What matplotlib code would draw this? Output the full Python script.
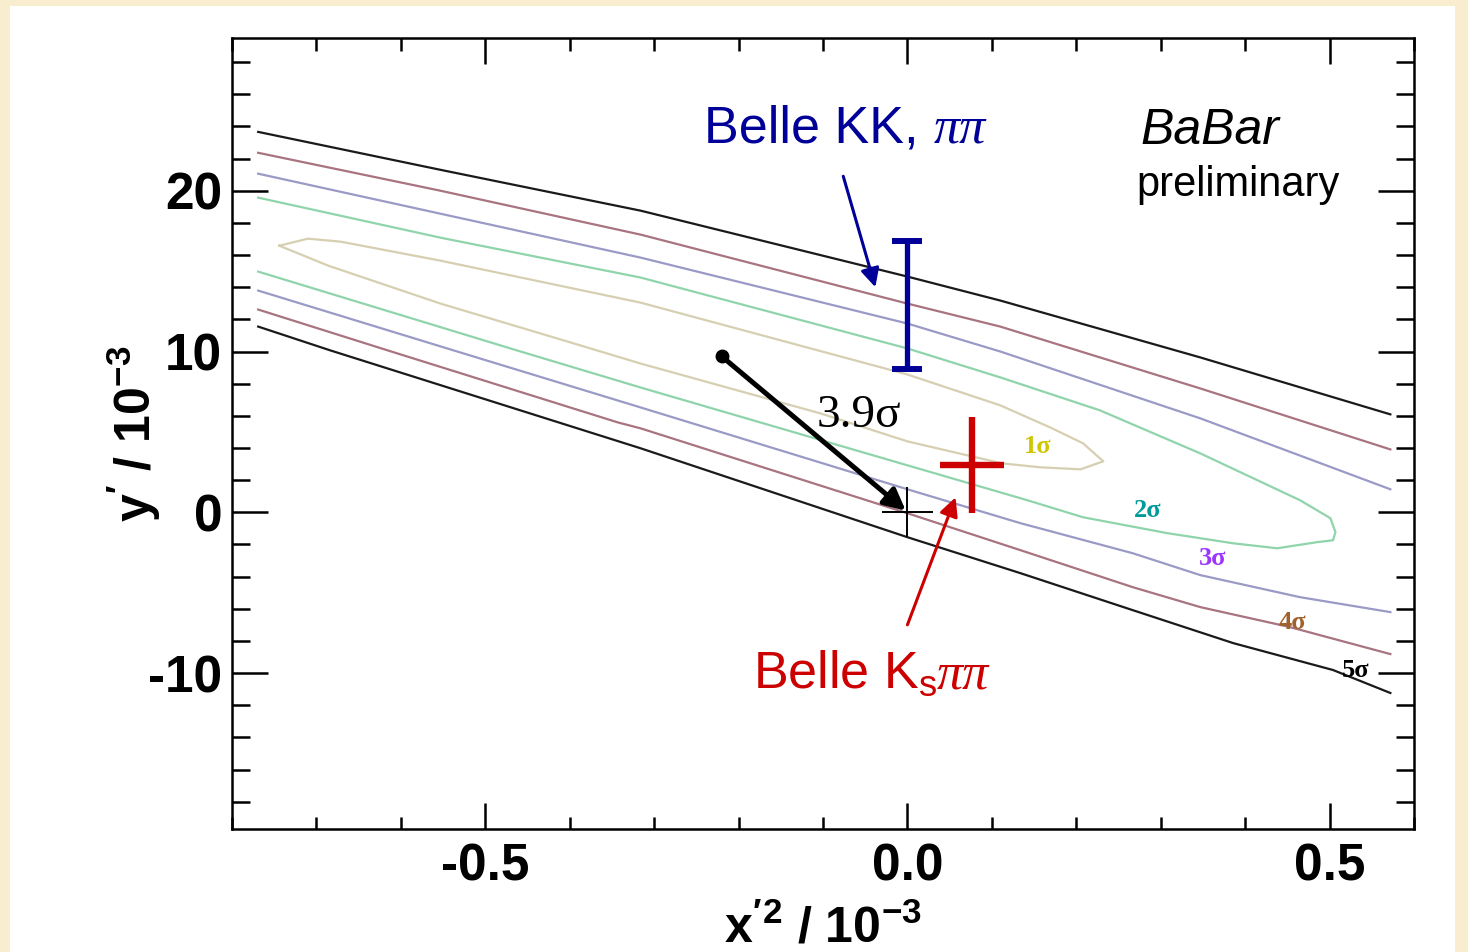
import numpy as np
import matplotlib.pyplot as plt
from matplotlib.patches import Rectangle
from matplotlib.ticker import MultipleLocator, FormatStrFormatter

# ---------------------------------------------------------
# D0 mixing: x'^2 vs y' likelihood contours (BaBar prelim.)
# ---------------------------------------------------------

# contour lines (x'^2 / 1e-3, y' / 1e-3)
sig1_x = [-0.744, -0.710, -0.671, -0.553, -0.316, 0.0, 0.110, 0.169, 0.208, 0.232,
          0.205, 0.157, 0.112, 0.0, -0.103, -0.316, -0.395, -0.553, -0.686, -0.744]
sig1_y = [16.58, 17.02, 16.83, 15.65, 13.04, 8.57, 6.65, 5.28, 4.29, 3.17,
          2.67, 2.80, 3.04, 4.41, 6.15, 9.25, 10.50, 12.98, 15.34, 16.58]

sig2_x = [-0.769, -0.553, -0.316, 0.0, 0.110, 0.228, 0.347, 0.465, 0.501, 0.507, 0.504,
          0.485, 0.438, 0.386, 0.308, 0.208, 0.142, 0.0, -0.316, -0.462, -0.769]
sig2_y = [19.57, 17.08, 14.60, 10.19, 8.39, 6.34, 3.66, 0.75, -0.37, -1.24, -1.74,
          -1.86, -2.24, -1.93, -1.30, -0.31, 0.75, 2.92, 7.76, 10.06, 14.97]

sig3_up_x = [-0.769, -0.553, -0.316, 0.0, 0.110, 0.347, 0.572]
sig3_up_y = [21.06, 18.57, 15.84, 11.74, 10.00, 5.84, 1.43]
sig3_lo_x = [-0.769, -0.537, -0.316, 0.0, 0.134, 0.267, 0.347, 0.465, 0.572]
sig3_lo_y = [13.79, 10.06, 6.52, 1.43, -0.68, -2.55, -3.91, -5.28, -6.21]

sig4_up_x = [-0.769, -0.553, -0.316, 0.0, 0.110, 0.347, 0.572]
sig4_up_y = [22.36, 20.00, 17.27, 12.98, 11.55, 7.70, 3.91]
sig4_lo_x = [-0.769, -0.615, -0.343, -0.316, 0.0, 0.134, 0.267, 0.347, 0.453, 0.572]
sig4_lo_y = [12.61, 10.06, 5.59, 5.22, -0.06, -2.36, -4.66, -5.90, -7.14, -8.82]

sig5_up_x = [-0.769, -0.553, -0.316, 0.0, 0.110, 0.347, 0.572]
sig5_up_y = [23.66, 21.30, 18.76, 14.66, 13.17, 9.63, 6.09]
sig5_lo_x = [-0.769, -0.683, -0.316, 0.0, 0.134, 0.267, 0.386, 0.504, 0.572]
sig5_lo_y = [11.55, 10.06, 3.98, -1.55, -3.79, -6.09, -8.14, -9.81, -11.24]

contour_colors = ['#d6cfb2', '#8fd4ab', '#9a9ac6', '#a87480', '#1a1a1a']

# sigma labels
sig_labels = ['1σ', '2σ', '3σ', '4σ', '5σ']
sig_label_x = [0.154, 0.285, 0.361, 0.456, 0.531]
sig_label_y = [3.66, -0.31, -3.29, -7.27, -10.25]
sig_label_colors = ['#cfc700', '#009a9a', '#9b35ff', '#a0622d', 'black']

# points / measurements
babar_best = (-0.22, 9.7)
no_mixing = (0.0, 0.0)
belle_kk_y, belle_kk_err = 12.9, 4.0
belle_kspp_x, belle_kspp_xerr = 0.076, 0.038
belle_kspp_y, belle_kspp_yerr = 2.92, 2.98

# ---------------------------------------------------------
# Plotting
# ---------------------------------------------------------
plt.rcParams['axes.unicode_minus'] = False
plt.rcParams['mathtext.fontset'] = 'custom'
plt.rcParams['mathtext.rm'] = 'Liberation Sans'
plt.rcParams['mathtext.bf'] = 'Liberation Sans:bold'
plt.rcParams['mathtext.it'] = 'Liberation Sans:italic'

fig = plt.figure(figsize=(14.68, 9.52), dpi=100, facecolor='#f9edcf')
fig.patches.append(Rectangle((10 / 1468, 0), 1445 / 1468, 946 / 952,
                             transform=fig.transFigure, facecolor='white',
                             edgecolor='none', zorder=-10))
ax = fig.add_axes([232 / 1468, 123 / 952, 1182 / 1468, 791 / 952])
ax.set_zorder(5)
ax.set_facecolor('white')

sans = 'Liberation Sans'
serif = 'Liberation Serif'

# contours
ax.plot(sig1_x, sig1_y, color=contour_colors[0], lw=1.6)
ax.plot(sig2_x, sig2_y, color=contour_colors[1], lw=1.6)
ax.plot(sig3_up_x, sig3_up_y, color=contour_colors[2], lw=1.6)
ax.plot(sig3_lo_x, sig3_lo_y, color=contour_colors[2], lw=1.6)
ax.plot(sig4_up_x, sig4_up_y, color=contour_colors[3], lw=1.6)
ax.plot(sig4_lo_x, sig4_lo_y, color=contour_colors[3], lw=1.6)
ax.plot(sig5_up_x, sig5_up_y, color=contour_colors[4], lw=1.6)
ax.plot(sig5_lo_x, sig5_lo_y, color=contour_colors[4], lw=1.6)

for lab, lx, ly, c in zip(sig_labels, sig_label_x, sig_label_y, sig_label_colors):
    ax.text(lx, ly, lab, color=c, family=serif, fontsize=19, fontweight='bold',
            ha='center', va='baseline')

# no-mixing point
ax.errorbar([no_mixing[0]], [no_mixing[1]], xerr=0.03, yerr=1.55, fmt='none',
            ecolor='black', elinewidth=1.4, capsize=0)

# BaBar best fit + arrow to no-mixing point
ax.plot([babar_best[0]], [babar_best[1]], 'o', color='black', markersize=9)
ax.annotate('', xy=(-0.002, 0.1), xytext=babar_best,
            arrowprops=dict(arrowstyle='-|>', lw=3.6, color='black',
                            mutation_scale=32, shrinkA=0, shrinkB=0))
ax.text(-0.058, 5.28, '3.9σ', family=serif, fontsize=34, ha='center', va='baseline')

# Belle KK, pipi (y_CP)
ax.errorbar([0.0], [belle_kk_y], yerr=belle_kk_err, fmt='none', ecolor='#000099',
            elinewidth=3.8, capsize=11, capthick=4.3)
ax.annotate('', xy=(-0.038, 14.0), xytext=(-0.076, 20.9),
            arrowprops=dict(arrowstyle='-|>', lw=2.2, color='#000099',
                            mutation_scale=28, shrinkA=0, shrinkB=0))
ax.text(-0.241, 22.98, 'Belle KK,', color='#000099', family=sans, fontsize=37.5,
        ha='left', va='baseline')
ax.text(0.031, 22.98, 'ππ', color='#000099', family=serif, fontsize=37.5,
        fontstyle='italic', ha='left', va='baseline')

# Belle Ks pipi
ax.errorbar([belle_kspp_x], [belle_kspp_y], xerr=belle_kspp_xerr, yerr=belle_kspp_yerr,
            fmt='none', ecolor='#cc0000', elinewidth=4.6, capsize=0)
ax.annotate('', xy=(0.057, 0.93), xytext=(0.0, -7.0),
            arrowprops=dict(arrowstyle='-|>', lw=2.2, color='#cc0000',
                            mutation_scale=28, shrinkA=0, shrinkB=0))
ax.text(-0.183, -10.93, r'Belle K$_\mathrm{s}$', color='#cc0000', family=sans,
        fontsize=37.5, ha='left', va='baseline')
ax.text(0.035, -10.93, 'ππ', color='#cc0000', family=serif, fontsize=37.5,
        fontstyle='italic', ha='left', va='baseline')

# experiment tag
ax.text(0.276, 22.92, 'BaBar', family=sans, fontstyle='italic', fontsize=36,
        ha='left', va='baseline')
ax.text(0.392, 19.69, 'preliminary', family=sans, fontsize=30,
        ha='center', va='baseline')

# axes formatting
ax.set_xlim(-0.8, 0.6)
ax.set_ylim(-19.7, 29.5)
ax.xaxis.set_major_locator(MultipleLocator(0.5))
ax.xaxis.set_minor_locator(MultipleLocator(0.1))
ax.xaxis.set_major_formatter(FormatStrFormatter('%.1f'))
ax.yaxis.set_major_locator(MultipleLocator(10))
ax.yaxis.set_minor_locator(MultipleLocator(2))
ax.tick_params(axis='both', which='both', direction='in', top=True, right=True,
               width=1.8, colors='black')
ax.tick_params(axis='x', which='major', length=19, pad=10)
ax.tick_params(axis='x', which='minor', length=9)
ax.tick_params(axis='y', which='major', length=26, pad=7)
ax.tick_params(axis='y', which='minor', length=13)
for lab in ax.get_xticklabels() + ax.get_yticklabels():
    lab.set_fontfamily(sans)
    lab.set_fontweight('bold')
    lab.set_fontsize(37)
for s in ax.spines.values():
    s.set_linewidth(1.8)

ax.set_xlabel(r"$\mathbf{x'^{2}\ /\ 10^{-3}}$", fontsize=36, labelpad=8)
ax.set_ylabel(r"$\mathbf{y'\ /\ 10^{-3}}$", fontsize=36, labelpad=-11)

plt.savefig('out.png', dpi=100, facecolor=fig.get_facecolor())
